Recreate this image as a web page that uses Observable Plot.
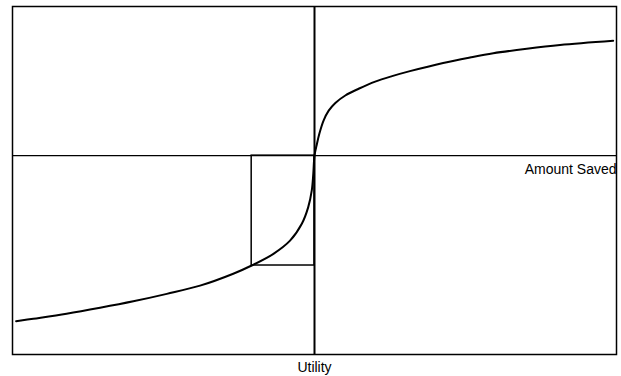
<!DOCTYPE html>
<html>
<head>
<meta charset="utf-8">
<script src="https://cdn.jsdelivr.net/npm/d3@7"></script>
<script src="https://cdn.jsdelivr.net/npm/@observablehq/plot@0.6"></script>
<style>
  html, body { margin: 0; padding: 0; background: #fff; }
</style>
</head>
<body>
<div id="chart"></div>
<script>
// Value function curve (x: amount, y: value)
const curveX = [-9.88, -9.31, -8.21, -7.10, -6.00, -4.89, -3.79, -2.69, -2.08, -1.36, -0.81, -0.42, -0.21, -0.09, -0.04, 0,
                0.08, 0.16, 0.30, 0.47, 0.69, 1.02, 1.46, 2.01, 2.57, 3.16, 4.26, 5.15, 5.92, 7.03, 8.13, 9.89];
const curveY = [-6.66, -6.56, -6.36, -6.12, -5.86, -5.56, -5.23, -4.75, -4.42, -3.95, -3.42, -2.74, -2.08, -1.40, -0.73, 0,
                0.47, 0.88, 1.41, 1.81, 2.12, 2.42, 2.69, 2.98, 3.20, 3.40, 3.73, 3.95, 4.12, 4.30, 4.45, 4.62];
// Box from origin to the point on the curve
const boxX = [-2.08, 0];
const boxY = [-4.42, 0];
const xDomain = [-10, 10];
const yDomain = [-8, 6];
const xLabel = "Utility";
const lineLabel = "Amount Saved";

const curve = curveX.map((x, i) => ({x, y: curveY[i]}));

const chart = Plot.plot({
  width: 621,
  height: 376,
  marginLeft: 12,
  marginRight: 5,
  marginTop: 6,
  marginBottom: 22,
  style: {fontFamily: "'Liberation Sans', Arial, sans-serif", fontSize: "14px", background: "#fff", color: "#000"},
  x: {domain: xDomain},
  y: {domain: yDomain, axis: null},
  marks: [
    Plot.axisX({ticks: [], label: xLabel, labelAnchor: "center", labelArrow: "none", labelOffset: 17, fontSize: 14}),
    Plot.rect([{}], {x1: boxX[0], x2: boxX[1], y1: boxY[0], y2: boxY[1], fill: "none", stroke: "#000", strokeWidth: 1.5}),
    Plot.ruleY([0], {stroke: "#000", strokeWidth: 1.2}),
    Plot.ruleX([0], {stroke: "#000", strokeWidth: 2}),
    Plot.line(curve, {x: "x", y: "y", curve: "catmull-rom", stroke: "#000", strokeWidth: 2}),
    Plot.text([lineLabel], {x: xDomain[1], y: 0, text: d => d, textAnchor: "end", lineAnchor: "top", dy: 8, fontSize: 14, fill: "#000"}),
    Plot.frame({stroke: "#000", strokeWidth: 1.5})
  ]
});
document.getElementById("chart").appendChild(chart);
</script>
</body>
</html>
